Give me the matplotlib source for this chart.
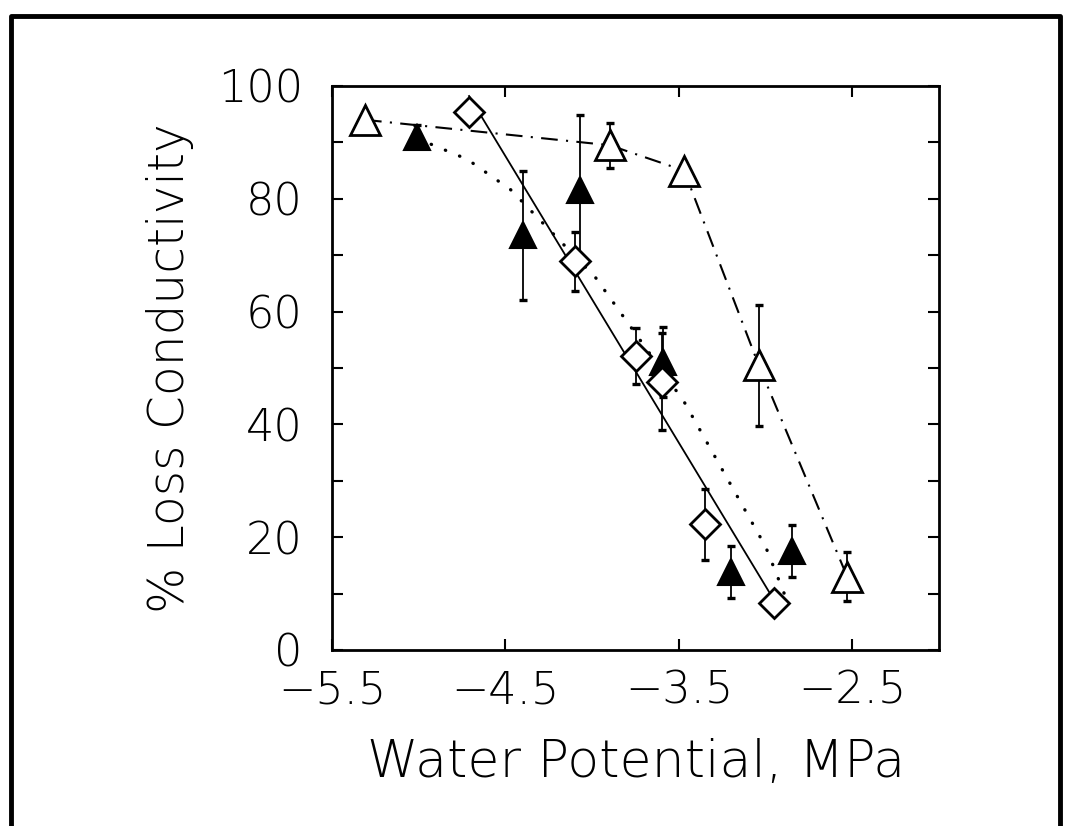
import matplotlib
matplotlib.use("Agg")
import matplotlib.pyplot as plt
import numpy as np
from matplotlib.lines import Line2D
from matplotlib.ticker import MultipleLocator

# --- valeurs ---
# triangles ouverts (reliés par le trait mixte)
open_x = [-5.31, -3.90, -3.47, -3.04, -2.53]
open_y = [94.0, 89.5, 85.0, 50.5, 13.0]
open_err = [0.0, 4.0, 0.0, 10.7, 4.4]

# triangles pleins
fill_x = [-5.01, -4.40, -4.07, -3.59, -3.20, -2.85]
fill_y = [91.0, 73.5, 81.5, 51.0, 13.8, 17.6]
fill_err = [2.0, 11.5, 13.4, 6.2, 4.6, 4.6]

# losanges (droite de régression en trait plein)
diam_x = [-4.71, -4.10, -3.75, -3.60, -3.35, -2.95]
diam_y = [95.3, 68.9, 52.1, 47.6, 22.3, 8.3]
diam_err = [0.0, 5.2, 5.0, 8.6, 6.3, 0.0]

# courbe en pointillés (ajustement des triangles pleins)
curve_x = [-5.01, -4.72, -4.47, -3.98, -3.47, -3.00, -2.88]
curve_y = [90.7, 87.0, 81.6, 66.0, 44.0, 18.3, 9.0]

x_ticks = [-5.5, -4.5, -3.5, -2.5]
y_ticks = [0, 20, 40, 60, 80, 100]

plt.rcParams['font.family'] = ['DejaVu Sans']
plt.rcParams['font.weight'] = 'light'
plt.rcParams['axes.labelweight'] = 'light'

fig = plt.figure(figsize=(10.68, 8.26), dpi=100)
ax = fig.add_axes([0.3109, 0.2131, 0.5684, 0.6828])


def barres(x, y, err):
    x, y, err = np.array(x), np.array(y), np.array(err)
    m = err > 0
    ax.errorbar(x[m], y[m], yerr=err[m], fmt='none', ecolor='k',
                elinewidth=1.3, capsize=3, capthick=2.4, zorder=1)


barres(open_x, open_y, open_err)
barres(fill_x, fill_y, fill_err)
barres(diam_x, diam_y, diam_err)

# lignes
ax.plot(open_x, open_y, color='k', lw=1.5, dashes=(8, 4, 1, 4), zorder=2)
ax.plot(curve_x, curve_y, color='k', lw=2.4, dashes=(0.1, 4.5),
        dash_capstyle='round', zorder=2)
pente, orig = np.polyfit(diam_x, diam_y, 1)
xf = np.array([min(diam_x), max(diam_x)])
ax.plot(xf, pente * xf + orig, color='k', lw=1.3, zorder=2)

# symboles
ax.plot(open_x, open_y, ls='none', marker='^', ms=21, mfc='white',
        mec='k', mew=2, zorder=4)
ax.plot(fill_x, fill_y, ls='none', marker='^', ms=19, mfc='black',
        mec='k', mew=1.5, zorder=4)
ax.plot(diam_x, diam_y, ls='none', marker='D', ms=15, mfc='white',
        mec='k', mew=2, zorder=4)

ax.set_xlim(-5.5, -2.0)
ax.set_ylim(0, 100)
ax.set_xticks(x_ticks)
ax.set_yticks(y_ticks)
ax.yaxis.set_minor_locator(MultipleLocator(10))
ax.tick_params(which='both', direction='in', top=True, right=True,
               length=8, width=1.5, labelsize=32)
ax.tick_params(axis='y', pad=21)
ax.tick_params(axis='x', pad=14)
for s in ax.spines.values():
    s.set_linewidth(2)

ax.set_xlabel("Water Potential, MPa", fontsize=37.5, va='center',
              fontweight='light')
ax.xaxis.set_label_coords(0.5, -0.20)
ax.set_ylabel("% Loss Conductivity", fontsize=35, va='center',
              fontweight='light')
ax.yaxis.set_label_coords(-0.267, 0.5)

# cadre de la page scannée
cadre = Line2D([10.5 / 1068, 10.5 / 1068, 1060 / 1068, 1060 / 1068],
               [0, 1 - 15.5 / 826, 1 - 15.5 / 826, 0],
               transform=fig.transFigure, color='k', lw=3.5)
fig.add_artist(cadre)

fig.savefig("out.png", dpi=100)
